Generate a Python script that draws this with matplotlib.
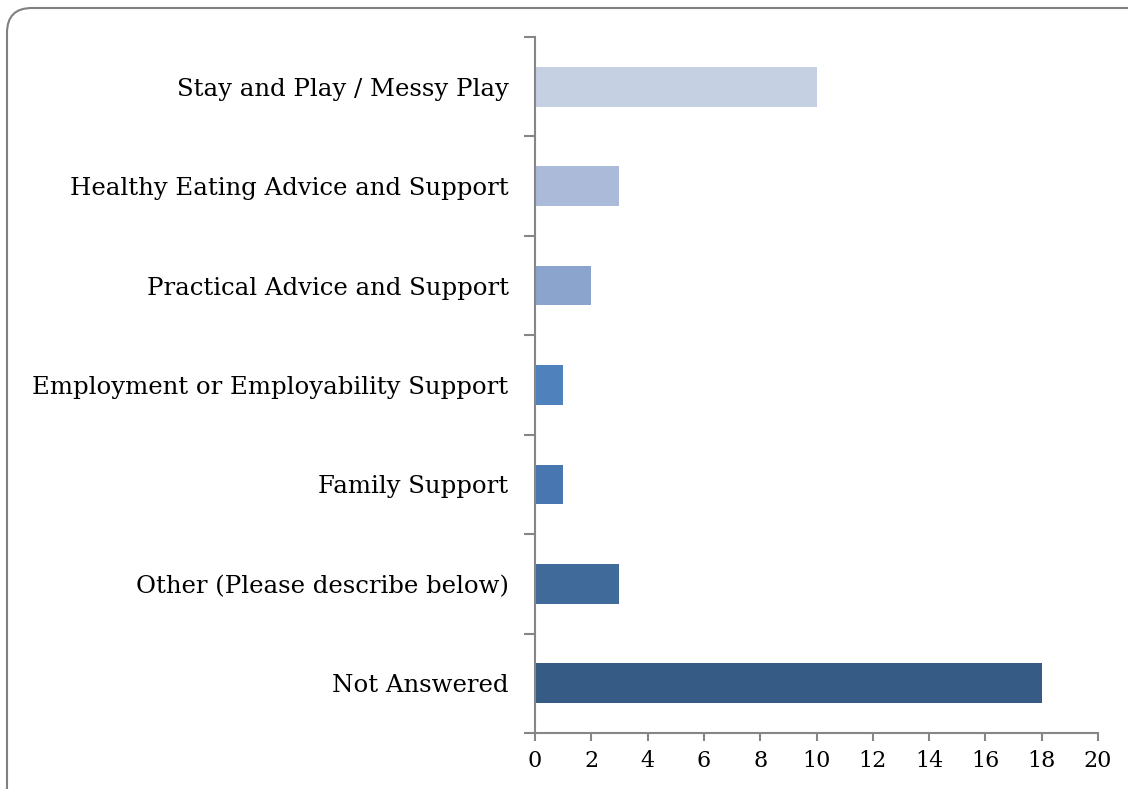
import matplotlib
matplotlib.use("Agg")
import matplotlib.pyplot as plt
from matplotlib.patches import FancyBboxPatch

categories = [
    "Stay and Play / Messy Play",
    "Healthy Eating Advice and Support",
    "Practical Advice and Support",
    "Employment or Employability Support",
    "Family Support",
    "Other (Please describe below)",
    "Not Answered",
]
counts = [10, 3, 2, 1, 1, 3, 18]
colors = ["#c5d0e2", "#abbad8", "#8aa4cd", "#4f81bd", "#4876b0", "#3f6a9a", "#365b85"]

plt.rcParams["font.family"] = ["DejaVu Serif"]

fig = plt.figure(figsize=(11.28, 7.89), dpi=100)
ax = fig.add_axes([535 / 1128, 1 - 733 / 789, (1098 - 535) / 1128, (733 - 37) / 789])

pos = list(range(len(categories)))[::-1]
ax.barh(pos, counts, height=0.4, color=colors)

ax.set_xlim(0, 20)
ax.set_ylim(-0.5, len(categories) - 0.5)
ax.set_xticks(range(0, 21, 2))
ax.set_yticks(pos)
ax.set_yticklabels(categories)
ax.set_yticks([p - 0.5 for p in range(len(categories) + 1)], minor=True)

grey = "#868686"
for s in ["top", "right"]:
    ax.spines[s].set_visible(False)
for s in ["left", "bottom"]:
    ax.spines[s].set_color(grey)
    ax.spines[s].set_linewidth(1.5)

ax.tick_params(axis="y", which="major", length=0, pad=19, labelsize=17.6)
ax.tick_params(axis="y", which="minor", length=8, width=1.5, color=grey)
ax.tick_params(axis="x", length=6, width=1.5, color=grey, labelsize=16, pad=6)

border = FancyBboxPatch((7 / 1128, -0.05), 1.2, 1 - 8 / 789 + 0.05,
                        boxstyle="round,pad=0,rounding_size=0.022",
                        transform=fig.transFigure, fill=False,
                        edgecolor="#808080", linewidth=1.5, mutation_aspect=1128 / 789)
fig.patches.append(border)

fig.savefig("out.png", dpi=100)
